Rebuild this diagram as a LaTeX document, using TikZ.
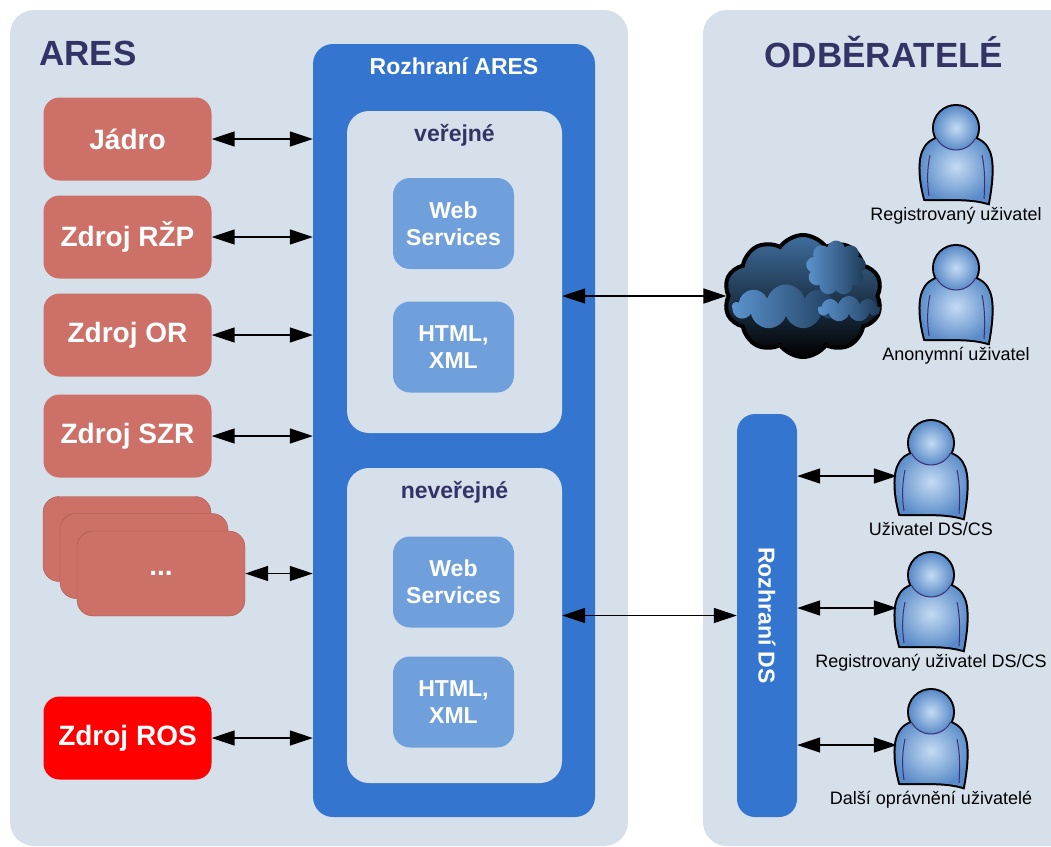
\documentclass[tikz,border=0pt]{standalone}
\usepackage{fontspec}
\setmainfont{Liberation Sans}
\usetikzlibrary{arrows.meta}
\usetikzlibrary{positioning,shapes.symbols}

\definecolor{panelbg}{HTML}{D6E0EB}
\definecolor{navy}{HTML}{333366}
\definecolor{aresblue}{HTML}{3476CF}
\definecolor{svcblue}{HTML}{70A0DC}
\definecolor{srcred}{HTML}{CC7068}
\definecolor{srcedge}{HTML}{A8564D}
\definecolor{rosred}{HTML}{FF0000}
\definecolor{userlight}{HTML}{C4DBF3}
\definecolor{userdark}{HTML}{5A8BC8}
\definecolor{headline}{HTML}{3A2F7A}
\definecolor{cloudtop}{HTML}{3F6E9E}
\definecolor{puffa}{HTML}{5B94CF}
\definecolor{puffb}{HTML}{1E3A58}

\newcommand{\personbody}{(-31,38) .. controls (-36,20) and (-38,-2) .. (-31,-13) .. controls (-22,-30) and (22,-30) .. (31,-13) .. controls (38,-2) and (36,20) .. (32,42) .. controls (12,36) and (-12,39) .. cycle}
\newcommand{\person}[1]{%
	\begin{scope}[shift={(#1.center)}]
		\draw[line width=4pt] \personbody;
		\draw[line width=4pt] (0,-33) circle[radius=22];
		\path[inner color=userlight, outer color=userdark] \personbody;
		\path[inner color=userlight, outer color=userdark] (0,-33) circle[radius=22];
		\draw[headline, line width=1pt] (0,-33) ++(28:22) arc[start angle=28, end angle=152, radius=22];
		\draw[headline, line width=1pt] (-26,-6) .. controls (-29,8) and (-29,22) .. (-27,35);
		\draw[headline, line width=1pt] (26,-6) .. controls (29,8) and (29,22) .. (28,38);
	\end{scope}}

\begin{document}
\begin{tikzpicture}[x=1pt,y=-1pt,
	panel/.style={fill=panelbg, rounded corners=24},
	title/.style={text=navy, font=\fontsize{35}{40}\selectfont\bfseries},
	source/.style={fill=srcred, rounded corners=16, minimum width=168, minimum height=83,
		text=white, font=\fontsize{28}{32}\selectfont\bfseries},
	iface/.style={fill=aresblue, rounded corners=20},
	ifacetitle/.style={text=white, font=\fontsize{23}{27}\selectfont\bfseries},
	zone/.style={fill=panelbg, rounded corners=22},
	zonetitle/.style={text=navy, font=\fontsize{23}{27}\selectfont\bfseries},
	service/.style={fill=svcblue, rounded corners=17, minimum width=121, minimum height=91,
		text=white, align=center, font=\fontsize{23}{27}\selectfont\bfseries},
	puff/.style={cloud, cloud ignores aspect, cloud puffs=9, left color=puffa, right color=puffb},
	user/.style={minimum width=68, minimum height=67, inner sep=0},
	userlabel/.style={inner sep=0, font=\fontsize{18}{20}\selectfont},
	link/.style={line width=1.5pt, {Triangle[length=23pt,width=15pt]}-{Triangle[length=23pt,width=15pt]}},
	node distance=12pt]
	\useasboundingbox (0,0) rectangle (1051,846);
	\clip (0,0) rectangle (1051,846);
	
	% panels
	\node[panel, minimum width=618, minimum height=836] (aresbg) at (319,428) {};
	\node[panel, minimum width=400, minimum height=836] (userbg) at (903,428) {};
	\node[title] (arestitle) at (88,53) {ARES};
	\node[title] (usertitle) at (884,52) {ODBĚRATELÉ};
	
	% sources
	\node[source] (core) at (127.5,139) {Jádro};
	\node[source] (rzp) at (127.5,237) {Zdroj RŽP};
	\node[source] (or) at (127.5,335) {Zdroj OR};
	\node[source] (szr) at (127.5,436) {Zdroj SZR};
	\node[source, draw=srcedge, minimum height=85] (more1) at (127,539) {};
	\node[source, draw=srcedge, minimum height=85] (more2) at (144,556) {};
	\node[source, draw=srcedge, minimum height=85] (more3) at (161,573.5) {...};
	\node[source, fill=rosred] (ros) at (127.5,738) {Zdroj ROS};
	
	% Rozhrani ARES
	\node[iface, minimum width=282, minimum height=773] (ares) at (454,430.5) {};
	\node[ifacetitle] (arestext) at (454,66) {Rozhraní ARES};
	\node[zone, minimum width=215, minimum height=322] (pub) at (454.5,272) {};
	\node[zonetitle] (pubtext) at (454.5,135) {veřejné};
	\node[service] (ws1) at (453.5,223.5) {Web\\Services};
	\node[service] (hx1) at (453.5,347) {HTML,\\XML};
	\node[zone, minimum width=215, minimum height=315] (nonpub) at (454.5,625.5) {};
	\node[zonetitle] (nonpubtext) at (454.5,492) {neveřejné};
	\node[service] (ws2) at (453.5,582) {Web\\Services};
	\node[service] (hx2) at (453.5,702) {HTML,\\XML};
	
	\foreach \s in {core,rzp,or,szr,more3,ros}
		\draw[link] (\s.east) -- (\s.east -| ares.west);
	
	% internet
	\node[cloud, cloud ignores aspect, cloud puffs=10, cloud puff arc=110, minimum width=158, minimum height=122,
		draw=black, line width=4pt, top color=cloudtop, bottom color=black] (net) at (803,296) {};
	\node[puff, minimum width=107, minimum height=45] (puff1) at (786,307) {};
	\node[puff, minimum width=60, minimum height=55] (puff2) at (836,268) {};
	\node[puff, minimum width=62, minimum height=26] (puff3) at (849,309) {};
	\draw[link] (pub.east |- net.west) -- (net.west);
	
	% Rozhrani DS
	\node[iface, rounded corners=18, minimum width=60, minimum height=403] (ds) at (767,615.5) {};
	\node[ifacetitle, rotate=-90] (dstext) at (ds.center) {Rozhraní DS};
	\draw[link] (nonpub.east |- ds.west) -- (ds.west);
	
	% users
	\node[user] (reg) at (956,161) {};
	\node[userlabel, below=of reg] (regtext) {Registrovaný uživatel};
	\node[user] (anon) at (956,301) {};
	\node[userlabel, below=of anon] (anontext) {Anonymní uživatel};
	\node[user] (dsu) at (931,476) {};
	\node[userlabel, below=of dsu] (dsutext) {Uživatel DS/CS};
	\node[user] (dsreg) at (931,608) {};
	\node[userlabel, below=of dsreg] (dsregtext) {Registrovaný uživatel DS/CS};
	\node[user] (dsmore) at (931,745) {};
	\node[userlabel, below=of dsmore] (dsmoretext) {Další oprávnění uživatelé};
	
	\foreach \u in {reg,anon,dsu,dsreg,dsmore}
		\person{\u};
	\foreach \u in {dsu,dsreg,dsmore}
		\draw[link] (ds.east |- \u.west) -- (\u.west);
\end{tikzpicture}
\end{document}
